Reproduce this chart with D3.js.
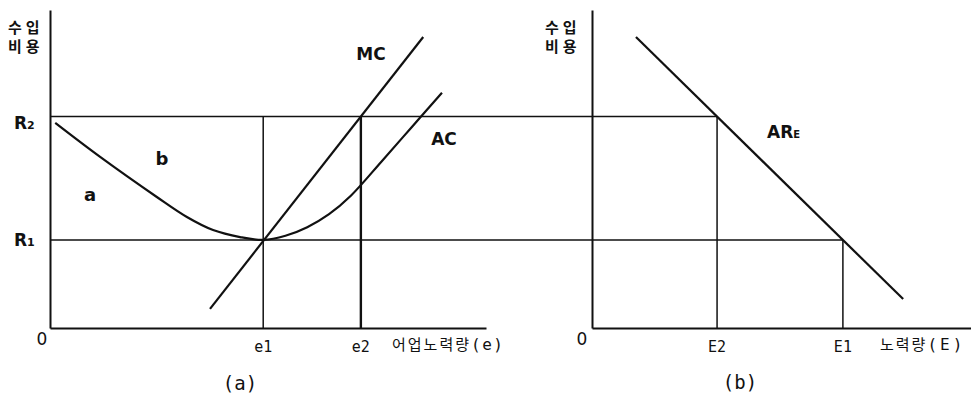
<html>
<head>
<meta charset="utf-8">
<style>
    body { margin: 0; background: #fff; }
    svg text { fill: #111; }
    .guide { stroke: #111; stroke-width: 1.5; fill: none; }
    .curve { stroke: #111; stroke-width: 2.2; fill: none; }
    .lab { font-family: "DejaVu Sans", sans-serif; font-size: 17px; font-weight: bold; }
    .mono { font-family: "DejaVu Sans Mono", monospace; font-size: 15px; }
    .kr { font-family: "Noto Sans CJK KR", sans-serif; font-size: 15px; }
</style>
</head>
<body>
<svg id="chart" width="971" height="395"></svg>
<script src="https://cdn.jsdelivr.net/npm/d3@7"></script>
<script>
// levels on the revenue / cost axis
let R1 = 2.77
let R2 = 6.65
// effort levels, panel (a) and panel (b)
let e1 = 4.89
let e2 = 7.13
let E1 = 6.62
let E2 = 3.30

// AC curve: [effort, cost]
let acPoints = [
    [0.12, 6.45], [1.15, 5.38], [2.45, 4.12], [3.14, 3.49], [3.74, 3.08],
    [4.36, 2.86], [4.89, 2.77], [5.4, 2.90], [5.9, 3.17], [6.4, 3.58],
    [6.9, 4.16], [7.6, 5.23], [8.1, 6.01], [8.49, 6.62], [8.99, 7.40]
]
// MC and AR_E are straight lines: end points
let mcPoints = [[3.67, 0.60], [8.56, 9.15]]
let arPoints = [[1.16, 9.15], [8.21, 0.91]]

let svg = d3.select("#chart")

let y = d3.scaleLinear().domain([0, 10]).range([328, 10])
let xA = d3.scaleLinear().domain([0, 10]).range([50, 486])
let xB = d3.scaleLinear().domain([0, 10]).range([592, 971])

// axes, drawn as bare domain lines
svg.append("g").attr("transform", "translate(" + xA(0) + ",0)")
    .call(d3.axisLeft(y).tickValues([]).tickSizeOuter(0))
svg.append("g").attr("transform", "translate(0," + y(0) + ")")
    .call(d3.axisBottom(xA).tickValues([]).tickSizeOuter(0))
svg.append("g").attr("transform", "translate(" + xB(0) + ",0)")
    .call(d3.axisLeft(y).tickValues([]).tickSizeOuter(0))
svg.append("g").attr("transform", "translate(0," + y(0) + ")")
    .call(d3.axisBottom(xB).tickValues([]).tickSizeOuter(0))
svg.selectAll(".domain").attr("stroke", "#111").attr("stroke-width", 2)

// guide lines
function seg(x1, y1, x2, y2, w) {
    svg.append("line").attr("class", "guide")
        .attr("x1", x1).attr("y1", y1).attr("x2", x2).attr("y2", y2)
        .style("stroke-width", w || 1.5)
}
seg(xA(0), y(R2), xB(E2), y(R2))
seg(xA(0), y(R1), xB(E1), y(R1))
seg(xA(e1), y(R2), xA(e1), y(0))
seg(xA(e2), y(R2), xA(e2), y(0), 2.4)
seg(xB(E2), y(R2), xB(E2), y(0))
seg(xB(E1), y(R1), xB(E1), y(0))

// curves
let lineA = d3.line().x(d => xA(d[0])).y(d => y(d[1]))
let lineB = d3.line().x(d => xB(d[0])).y(d => y(d[1]))
svg.append("path").attr("class", "curve")
    .attr("d", d3.line().x(d => xA(d[0])).y(d => y(d[1])).curve(d3.curveCatmullRom.alpha(0.5))(acPoints))
svg.append("path").attr("class", "curve")
    .attr("d", lineA(mcPoints))
svg.append("path").attr("class", "curve")
    .attr("d", lineB(arPoints))

// text helpers
function txt(x, yy, s, cls, anchor) {
    return svg.append("text").attr("class", cls)
        .attr("x", x).attr("y", yy)
        .attr("text-anchor", anchor || "start")
        .text(s)
}
function sub(x, yy, main, small, cls, size) {
    let t = svg.append("text").attr("class", cls).attr("x", x).attr("y", yy)
    t.append("tspan").text(main)
    t.append("tspan").style("font-size", size + "px").text(small)
    return t
}
// korean word followed by a monospace "(x)"
function axisTitle(x, yy, word, sym, gap) {
    let t = svg.append("text").attr("x", x).attr("y", yy)
    t.append("tspan").attr("class", "kr").attr("letter-spacing", 2).text(word)
    t.append("tspan").attr("class", "mono").style("font-size", "16px")
        .attr("letter-spacing", gap).text("(" + sym + ")")
}

// vertical axis titles
let kt = [[8, 33, "수입"], [8, 52, "비용"], [545, 33, "수입"], [545, 52, "비용"]]
kt.forEach(d => txt(d[0], d[1], d[2], "kr")
    .attr("letter-spacing", 4).style("font-weight", "bold"))

sub(14, y(R2) + 12, "R", "2", "lab", 11)
sub(14, y(R1) + 6, "R", "1", "lab", 11)

txt(xA(0) - 8, 345, "0", "lab", "middle").style("font-weight", "normal")
txt(xB(0) - 10, 345, "0", "lab", "middle").style("font-weight", "normal")

txt(xA(e1), 352, "e1", "mono", "middle")
txt(xA(e2), 352, "e2", "mono", "middle")
axisTitle(392, 350, "어업노력량", "e", 1.5)
txt(xB(E2), 352, "E2", "mono", "middle")
txt(xB(E1), 352, "E1", "mono", "middle")
axisTitle(880, 350, "노력량", "E", 3)

txt(240, 390, "(a)", "mono", "middle").style("font-size", "19px")
txt(740, 389, "(b)", "mono", "middle").style("font-size", "19px")

txt(371, 60, "MC", "lab", "middle")
txt(444, 145, "AC", "lab", "middle")
txt(162, 165, "b", "lab", "middle").style("font-size", "18px")
txt(90, 201, "a", "lab", "middle").style("font-size", "18px")
sub(767, 138, "AR", "E", "lab", 10)
</script>
</body>
</html>
